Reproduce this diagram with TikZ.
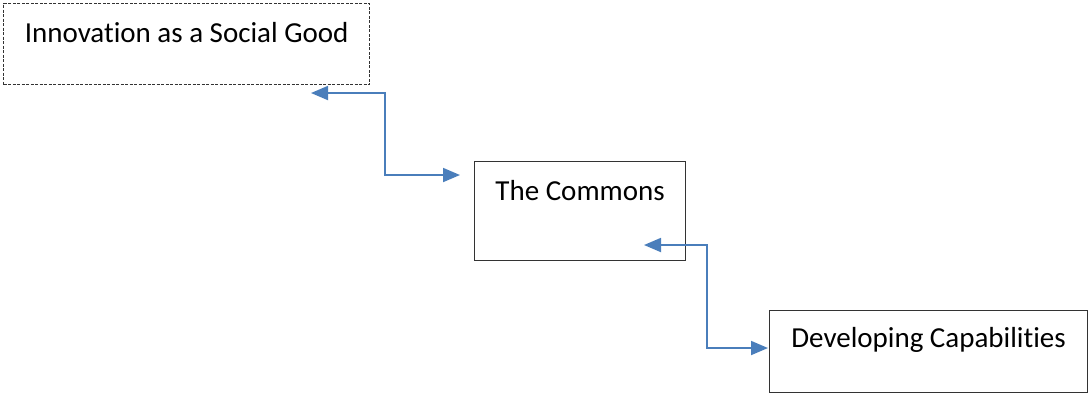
\documentclass[tikz,border=0pt]{standalone}
\usepackage{fontspec}
\setmainfont[Ligatures=NoCommon]{Carlito}
\usetikzlibrary{arrows.meta}
\definecolor{linkblue}{HTML}{4A7EBB}
\definecolor{boxgray}{HTML}{333333}
\tikzset{
  box/.style={draw=boxgray, line width=1.2pt, rectangle, inner sep=0pt},
  dashbox/.style={box, line width=1.4pt, dash pattern=on 3pt off 1.5pt},
  lbl/.style={font=\fontsize{29}{34}\selectfont, anchor=base, inner sep=0pt},
  link/.style={draw=linkblue, line width=1.8pt, {Triangle[length=17pt,width=14pt]}-{Triangle[length=17pt,width=14pt]}}
}
\begin{document}
\begin{tikzpicture}[x=1pt,y=-1pt]
\useasboundingbox (0,0) rectangle (1088,392);
\node[dashbox, minimum width=366pt, minimum height=81pt, anchor=north west] (innov) at (3,3) {};
\node[lbl] (innovt) at ([yshift=-39pt]innov.north) {Innovation as a Social Good};
\node[box, minimum width=211pt, minimum height=99pt, anchor=north west] (commons) at (474,161) {};
\node[lbl] (commonst) at ([yshift=-39pt]commons.north) {The Commons};
\node[box, minimum width=318pt, minimum height=82pt, anchor=north west] (dev) at (769,310) {};
\node[lbl] (devt) at ([yshift=-37pt]dev.north) {Developing Capabilities};
\coordinate (a1) at (311,93);
\coordinate (a2) at (460,175);
\coordinate (b1) at (644,245);
\coordinate (b2) at (768,348);
\draw[link] (a1) -| (385,134) |- (a2);
\draw[link] (b1) -| (707,296) |- (b2);
\end{tikzpicture}
\end{document}
